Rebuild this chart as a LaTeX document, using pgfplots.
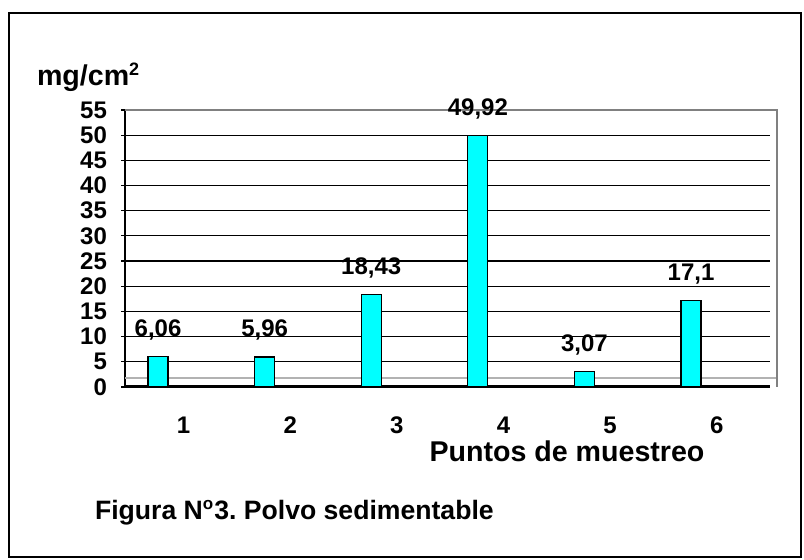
\documentclass[border=0pt]{standalone}
\usepackage{pgfplots}
\pgfplotsset{compat=1.18}
\usepackage{fontspec}
\setmainfont{Liberation Sans}
\frenchspacing
\begin{document}
\begin{tikzpicture}[x=1pt,y=1pt]
\useasboundingbox (0,0) rectangle (402,280);
\draw[line width=1pt] (4.5,1.5) rectangle (400.5,273.5);
\begin{axis}[
  at={(62.5pt,86.5pt)}, anchor=south west,
  scale only axis, width=322.5pt, height=138.5pt,
  xmin=0.45, xmax=6.5, ymin=0, ymax=55,
  clip=false,
  axis lines*=left,
  x axis line style={line width=1.5pt, -},
  y axis line style={line width=1pt, -},
  ytick={0,5,...,55},
  xtick={1,...,6},
  ymajorgrids,
  grid style={black, line width=0.6pt},
  tick align=outside,
  major tick length=2pt,
  ytick style={black, line width=0.6pt},
  xtick style={draw=none},
  extra x ticks={0.5,1.5,...,6.5},
  extra x tick labels={},
  extra x tick style={grid=none, major tick length=5pt, tick style={draw=black, line width=0.8pt}},
  /pgf/number format/assume math mode=true,
  tick label style={font=\fontsize{12}{14}\selectfont\bfseries},
  yticklabel style={xshift=-3.5pt},
  xticklabel style={anchor=base, yshift=-21.5pt},
  ybar, bar width=10pt, bar shift=-12.8pt,
  nodes near coords={\pgfmathprintnumber[use comma, fixed, precision=2]{\pgfplotspointmeta}},
  every node near coord/.append style={font=\fontsize{12}{14}\selectfont\bfseries, black, yshift=4.5pt},
]
\draw[gray!60, line width=0.8pt] (axis cs:0.45,1.8) -- (axis cs:6.5,1.8) -- ([xshift=3.5pt]axis cs:6.5,1.8);
\draw[gray, line width=1pt] ([xshift=3.5pt]axis cs:6.5,0) -- ([xshift=3.5pt]axis cs:6.5,55) -- (axis cs:0.45,55);
\addplot[fill={rgb,255:red,0;green,255;blue,255}, draw=black, line width=0.6pt]
  coordinates {(1,6.06) (2,5.96) (3,18.43) (4,49.92) (5,3.07) (6,17.1)};
\end{axis}
\node[anchor=base west, font=\fontsize{14.3}{16}\selectfont\bfseries] at (15,237) {mg/cm\textsuperscript{\fontsize{9}{10}\selectfont 2}};
\node[anchor=base, font=\fontsize{14.3}{16}\selectfont\bfseries] at (283.5,49) {Puntos de muestreo};
\node[anchor=base west, font=\fontsize{13.3}{16}\selectfont\bfseries] at (44,20) {Figura N\textsuperscript{\fontsize{8.5}{10}\selectfont o}3. Polvo sedimentable};
\end{tikzpicture}
\end{document}
